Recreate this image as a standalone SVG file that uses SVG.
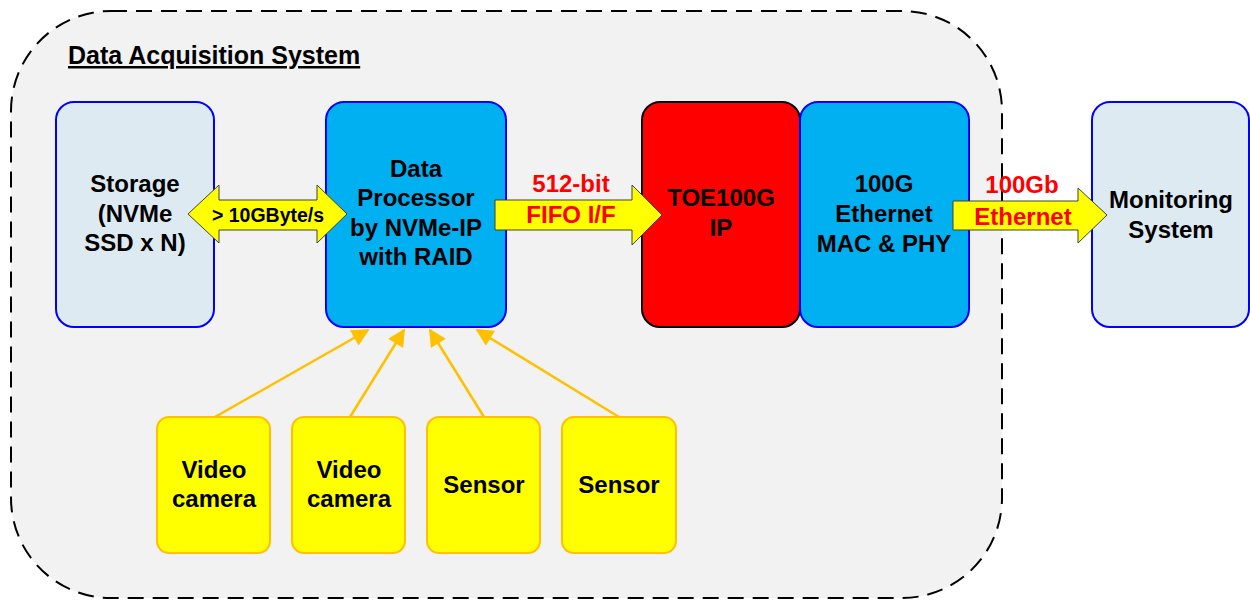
<svg xmlns="http://www.w3.org/2000/svg" width="1250" height="601" viewBox="0 0 1250 601">
<defs>
<marker id="ah" viewBox="0 0 10 10" refX="9" refY="5" markerWidth="8" markerHeight="7" markerUnits="strokeWidth" orient="auto">
<path d="M0,0 L10,5 L0,10 z" fill="#ffc000"/>
</marker>
</defs>
<style>
text{font-family:"Liberation Sans",Arial,sans-serif;font-weight:bold;text-anchor:middle;fill:#000}
.t{font-size:24px}
.lb{fill:#deeaf1;stroke:#0000ff;stroke-width:2}
.db{fill:#00b0f0;stroke:#0000ff;stroke-width:2}
.ye{fill:#ffff00;stroke:#ffc000;stroke-width:2}
.red{font-size:24px;fill:#ff0000}
.arr{fill:#ffff00;stroke:#404040;stroke-width:1}
.con{stroke:#ffc000;stroke-width:2.5;fill:none}
</style>
<rect width="1250" height="601" fill="#ffffff"/>
<g id="system">
<rect x="11" y="11" width="991" height="587" rx="100" ry="100" fill="#f2f2f2" stroke="#000" stroke-width="2" stroke-dasharray="16,9"/>
<text x="68" y="64" style="font-size:25px;text-anchor:start;text-decoration:underline">Data Acquisition System</text>
</g>
<g id="storage">
<rect class="lb" x="56" y="102" width="158" height="225" rx="18"/>
<text class="t" x="135" y="192">Storage</text>
<text class="t" x="135" y="222">(NVMe</text>
<text class="t" x="135" y="251">SSD x N)</text>
</g>
<g id="processor">
<rect class="db" x="326" y="102" width="180" height="225" rx="18"/>
<text class="t" x="416" y="177">Data</text>
<text class="t" x="416" y="206">Processor</text>
<text class="t" x="416" y="236">by NVMe-IP</text>
<text class="t" x="416" y="265">with RAID</text>
</g>
<g id="toe">
<rect x="642" y="102" width="158" height="225" rx="18" fill="#ff0000" stroke="#000" stroke-width="2"/>
<text class="t" x="721" y="206">TOE100G</text>
<text class="t" x="721" y="236">IP</text>
</g>
<g id="mac">
<rect class="db" x="800" y="102" width="169" height="225" rx="18"/>
<text class="t" x="884" y="192">100G</text>
<text class="t" x="884" y="222">Ethernet</text>
<text class="t" x="884" y="252">MAC &amp; PHY</text>
</g>
<g id="monitor">
<rect class="lb" x="1092" y="102" width="157" height="225" rx="18"/>
<text class="t" x="1171" y="208">Monitoring</text>
<text class="t" x="1171" y="238">System</text>
</g>
<g id="cam1">
<rect class="ye" x="157" y="417" width="113" height="136" rx="12"/>
<text class="t" x="214" y="478">Video</text>
<text class="t" x="214" y="507">camera</text>
</g>
<g id="cam2">
<rect class="ye" x="292" y="417" width="113" height="136" rx="12"/>
<text class="t" x="349" y="478">Video</text>
<text class="t" x="349" y="507">camera</text>
</g>
<g id="sensor1">
<rect class="ye" x="427" y="417" width="113" height="136" rx="12"/>
<text class="t" x="484" y="493">Sensor</text>
</g>
<g id="sensor2">
<rect class="ye" x="562" y="417" width="114" height="136" rx="12"/>
<text class="t" x="619" y="493">Sensor</text>
</g>
<g id="connectors">
<path class="arr" d="M188,214 L219,185 L219,200 L317,200 L317,185 L347,214 L317,243 L317,230 L219,230 L219,243 Z"/>
<text x="268" y="222" style="font-size:19.5px">&gt; 10GByte/s</text>
<path class="arr" d="M495,200 L632,200 L632,185 L662,215 L632,245 L632,230 L495,230 Z"/>
<text class="red" x="571" y="192">512-bit</text>
<text class="red" x="571" y="223">FIFO I/F</text>
<path class="arr" d="M953,201 L1078,201 L1078,188 L1107,215 L1078,243 L1078,230 L953,230 Z"/>
<text class="red" x="1022" y="193">100Gb</text>
<text class="red" x="1023" y="225">Ethernet</text>
<line class="con" x1="215" y1="417" x2="368" y2="330" marker-end="url(#ah)"/>
<line class="con" x1="350" y1="417" x2="404" y2="330" marker-end="url(#ah)"/>
<line class="con" x1="484" y1="417" x2="430" y2="330" marker-end="url(#ah)"/>
<line class="con" x1="619" y1="417" x2="477" y2="330" marker-end="url(#ah)"/>
</g>
</svg>
